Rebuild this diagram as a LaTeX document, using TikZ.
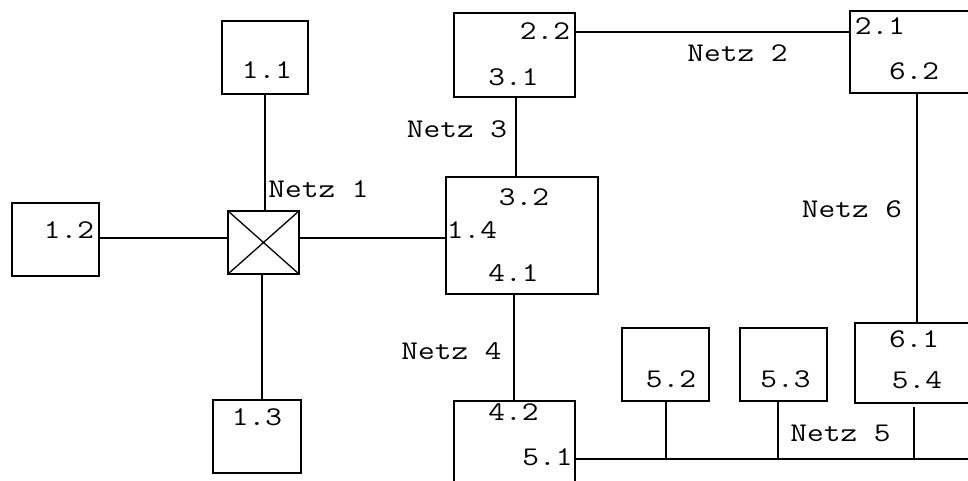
\documentclass[tikz,border=0pt]{standalone}
\usepackage{fontspec}
\setmonofont[FakeStretch=1.2]{Latin Modern Mono}
\begin{document}
\begin{tikzpicture}[x=1pt,y=-1pt,
  box/.style={draw,line width=2pt,inner sep=0pt,outer sep=0pt,minimum width=#1},
  lbl/.style={inner sep=0pt,outer sep=0pt,font=\ttfamily\fontsize{27}{27}\selectfont},
  wire/.style={line width=2pt}]
\useasboundingbox (0,0) rectangle (968,481);
\clip (0,0) rectangle (968,481);
% boxes
\node[box=86pt,minimum height=73pt] (b11) at (265,57.5) {};
\node[box=87pt,minimum height=73pt] (b12) at (55.5,239.5) {};
\node[box=88pt,minimum height=73pt] (b13) at (257,436.5) {};
\node[box=71pt,minimum height=63pt] (cross) at (263.5,242.5) {};
\node[box=121pt,minimum height=84pt] (b31) at (514.5,55) {};
\node[box=152pt,minimum height=117pt] (b32) at (522,235.5) {};
\node[box=121pt,minimum height=139pt] (b42) at (514.5,470.5) {};
\node[box=87pt,minimum height=73pt] (b52) at (665.5,364.5) {};
\node[box=87pt,minimum height=73pt] (b53) at (783.5,364.5) {};
\node[box=145pt,minimum height=80pt] (b61) at (927.5,363) {};
\node[box=150pt,minimum height=82pt] (b21) at (925,52) {};
\draw[line width=1.3pt] (cross.north west) -- (cross.south east) (cross.north east) -- (cross.south west);
% labels
\node[lbl] (l11) at (267,70) {1.1};
\node[lbl] (l12) at (69,230) {1.2};
\node[lbl] (l13) at (257,417) {1.3};
\node[lbl] (n1) at (318.5,189) {Netz 1};
\node[lbl] (l22) at (545,31) {2.2};
\node[lbl] (l31) at (513.5,77) {3.1};
\node[lbl] (n3) at (457,129) {Netz 3};
\node[lbl] (n2) at (737.5,53) {Netz 2};
\node[lbl] (l21) at (880,26) {2.1};
\node[lbl] (l62) at (914,71) {6.2};
\node[lbl] (n6) at (852,209) {Netz 6};
\node[lbl] (l32) at (524,197) {3.2};
\node[lbl] (l14) at (472,230) {1.4};
\node[lbl] (l41) at (513.5,273) {4.1};
\node[lbl] (n4) at (451.5,351) {Netz 4};
\node[lbl] (l42) at (513.5,412) {4.2};
\node[lbl] (l51) at (547.5,457) {5.1};
\node[lbl] (l52) at (671,379) {5.2};
\node[lbl] (l53) at (785.5,379) {5.3};
\node[lbl] (n5) at (840.5,433) {Netz 5};
\node[lbl] (l61) at (914,339) {6.1};
\node[lbl] (l54) at (917,380) {5.4};
% wire rows and columns
\coordinate (row1) at (0,238);
\coordinate (row2) at (0,32);
\coordinate (busend) at (980,459);
\coordinate (c1) at (265,0);
\coordinate (c2) at (262,0);
\coordinate (c3) at (516,0);
\coordinate (c4) at (514,0);
\coordinate (c6) at (917,0);
\coordinate (c52) at (666,0);
\coordinate (c53) at (778,0);
\coordinate (c54) at (914,0);
% connectors
\draw[wire] (b11.south -| c1) -- (cross.north -| c1);
\draw[wire] (cross.south -| c2) -- (b13.north -| c2);
\draw[wire] (b12.east |- row1) -- (cross.west |- row1);
\draw[wire] (cross.east |- row1) -- (b32.west |- row1);
\draw[wire] (b31.south -| c3) -- (b32.north -| c3);
\draw[wire] (b32.south -| c4) -- (b42.north -| c4);
\draw[wire] (b31.east |- row2) -- (b21.west |- row2);
\draw[wire] (b21.south -| c6) -- (b61.north -| c6);
\draw[wire] (b42.east |- busend) -- (busend);
\draw[wire] (b52.south -| c52) -- (busend -| c52);
\draw[wire] (b53.south -| c53) -- (busend -| c53);
\draw[wire] ([yshift=-4pt]b61.south -| c54) -- (busend -| c54);
\end{tikzpicture}
\end{document}
